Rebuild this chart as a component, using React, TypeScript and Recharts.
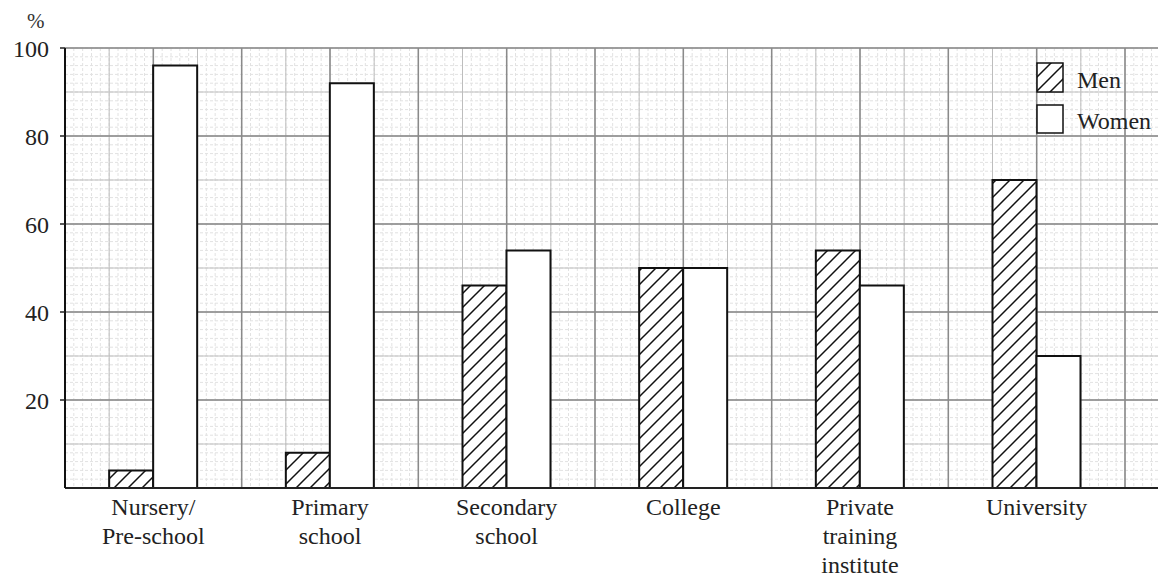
import React from "react";
import { Bar, BarChart, CartesianGrid, XAxis, YAxis } from "recharts";

const categories = [
  "Nursery/\nPre-school",
  "Primary\nschool",
  "Secondary\nschool",
  "College",
  "Private\ntraining\ninstitute",
  "University",
];
const men = [4, 8, 46, 50, 54, 70];
const women = [96, 92, 54, 50, 46, 30];
const yTicks = [20, 40, 60, 80, 100];

const data = categories.map((name, i) => ({ name, men: men[i], women: women[i] }));

const FONT = "'Liberation Serif', 'Times New Roman', Times, 'DejaVu Serif', 'Noto Serif', serif";
const RIGHT_PAD = 33;

// graph-paper lines, built from the plot box
function hLines(step: number) {
  return (props: any) => {
    const top = props?.offset?.top ?? 48;
    const h = props?.offset?.height ?? 440;
    const out: number[] = [];
    for (let v = 0; v <= 100; v += step) out.push(top + h * (1 - v / 100));
    return out;
  };
}

function vLines(div: number) {
  return (props: any) => {
    const left = props?.offset?.left ?? 65;
    const w = props?.offset?.width ?? 1093;
    const col = (w - RIGHT_PAD) / 12 / div;
    const out: number[] = [];
    for (let x = left; x <= left + w + 0.5; x += col) out.push(x);
    return out;
  };
}

function CategoryTick({ x, y, payload }: any) {
  const lines = String(payload.value).split("\n");
  return (
    <text x={x} y={y} textAnchor="middle" style={{ fontFamily: FONT }} fontSize={24} fill="#222">
      {lines.map((l, i) => (
        <tspan key={i} x={x} y={y + 27 + i * 29}>
          {l}
        </tspan>
      ))}
    </text>
  );
}

function HatchDef({ id }: { id: string }) {
  return (
    <pattern id={id} patternUnits="userSpaceOnUse" width={14} height={14}>
      <rect width={14} height={14} fill="#fff" />
      <path d="M0,14 L14,0 M-3,3 L3,-3 M11,17 L17,11" stroke="#111" strokeWidth={1.5} />
    </pattern>
  );
}

export default function App() {
  return (
    <div
      style={{
        position: "absolute",
        left: 0,
        top: 0,
        width: 1158,
        height: 577,
        background: "#fff",
        fontFamily: FONT,
      }}
    >
      <div style={{ position: "absolute", left: 27, top: 9, fontFamily: FONT, fontSize: 21, color: "#333" }}>%</div>
      <BarChart
        width={1158}
        height={577}
        data={data}
        margin={{ top: 48, right: 0, bottom: 0, left: 0 }}
        barCategoryGap="25%"
        barGap={0}
        style={{ fontFamily: FONT }}
      >
        <defs>
          <HatchDef id="hatch" />
        </defs>
        <CartesianGrid
          stroke="#e2e2e2"
          strokeDasharray="3 2"
          horizontalCoordinatesGenerator={hLines(2)}
          verticalCoordinatesGenerator={vLines(10)}
        />
        <CartesianGrid
          stroke="#bdbdbd"
          horizontalCoordinatesGenerator={hLines(10)}
          verticalCoordinatesGenerator={vLines(2)}
        />
        <CartesianGrid
          stroke="#8a8a8a"
          strokeWidth={1.5}
          horizontalCoordinatesGenerator={hLines(20)}
          verticalCoordinatesGenerator={vLines(1)}
        />
        <XAxis
          dataKey="name"
          interval={0}
          height={89}
          padding={{ left: 0, right: RIGHT_PAD }}
          tickSize={0}
          tickMargin={0}
          tickLine={false}
          axisLine={{ stroke: "#222", strokeWidth: 2 }}
          tick={<CategoryTick />}
        />
        <YAxis
          width={65}
          domain={[0, 100]}
          ticks={yTicks}
          interval={0}
          tickSize={5}
          tickMargin={11}
          axisLine={{ stroke: "#111", strokeWidth: 2 }}
          tickLine={{ stroke: "#222", strokeWidth: 1.5 }}
          tick={{ fontSize: 24, fill: "#222", style: { fontFamily: FONT } }}
        />
        <Bar dataKey="men" fill="url(#hatch)" stroke="#111" strokeWidth={2} isAnimationActive={false} />
        <Bar dataKey="women" fill="#fff" stroke="#111" strokeWidth={2} isAnimationActive={false} />
      </BarChart>
      <svg width={128} height={85} style={{ position: "absolute", left: 1030, top: 56 }}>
        <defs>
          <HatchDef id="hatch-legend" />
        </defs>
        <rect x={7} y={7} width={26} height={29} fill="url(#hatch-legend)" stroke="#111" strokeWidth={1.5} />
        <text x={47} y={32} style={{ fontFamily: FONT }} fontSize={24} fill="#222">
          Men
        </text>
        <rect x={7} y={49} width={26} height={28} fill="#fff" stroke="#111" strokeWidth={1.5} />
        <text x={47} y={73} style={{ fontFamily: FONT }} fontSize={24} fill="#222">
          Women
        </text>
      </svg>
    </div>
  );
}
